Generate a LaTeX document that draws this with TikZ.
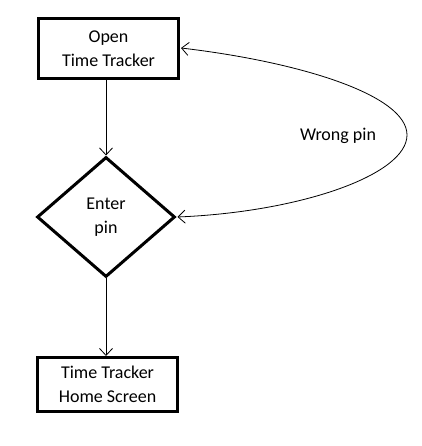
\documentclass[tikz,border=0pt]{standalone}
\usepackage{fontspec}
\setmainfont{Carlito}
\usetikzlibrary{shapes.geometric,arrows.meta}
\begin{document}
\begin{tikzpicture}[x=1pt,y=1pt,
  txt/.style={font=\fontsize{18}{23.5}\selectfont,align=center,text=black},
  boxnode/.style={txt,draw,line width=3pt,rectangle,inner sep=0pt},
  decnode/.style={txt,draw,line width=3pt,diamond,inner sep=0pt,minimum width=138pt,minimum height=120pt},
  conn/.style={line width=0.8pt,-{Straight Barb[length=7pt,width=13pt,line width=0.8pt]}}]
\useasboundingbox (0,0) rectangle (421,446);
\node[boxnode,minimum width=140pt,minimum height=60pt] (open) at (108.5,397.5) {Open\\Time Tracker};
\node[decnode] (enter) at (106,229) {Enter\\pin};
\node[boxnode,minimum width=140pt,minimum height=54pt] (home) at (107.5,61.5) {Time Tracker\\Home Screen};
\node[txt] (wrong) at (338,310) {Wrong pin};
\draw[conn] (open.south -| enter.north) -- (enter.north);
\draw[conn] (enter.south) -- (enter.south |- home.north);
\draw[line width=0.8pt,{Straight Barb[length=7pt,width=13pt,line width=0.8pt]}-{Straight Barb[length=7pt,width=13pt,line width=0.8pt]}]
  ([xshift=1pt]open.east |- 0,398) .. controls (300,384) and (407,351) .. (407,311)
  .. controls (407,271) and (300,234) .. ([xshift=1pt]enter.east);
\end{tikzpicture}
\end{document}
